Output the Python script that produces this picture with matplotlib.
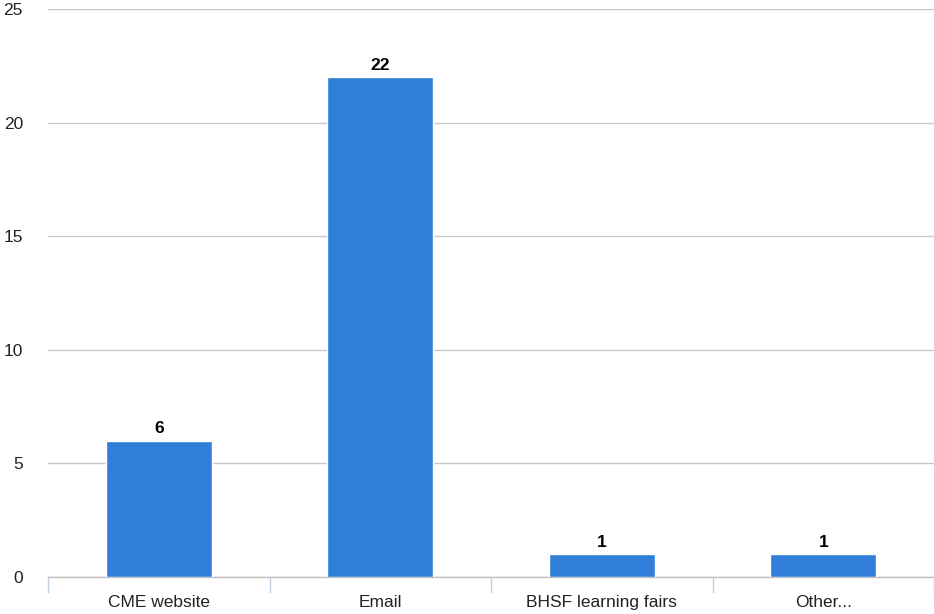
import matplotlib

matplotlib.use("Agg")

import matplotlib.pyplot as plt
import numpy as np

categories = ["CME website", "Email", "BHSF learning fairs", "Other..."]
counts = [6, 22, 1, 1]
yticks = [0, 5, 10, 15, 20, 25]

plt.rcParams["font.family"] = ["Liberation Sans", "DejaVu Sans"]

fig = plt.figure(figsize=(9.34, 6.14), dpi=100)
ax = fig.add_axes([48 / 934, 37 / 614, 886 / 934, 568 / 614])

x = np.arange(len(categories))
ax.bar(x, counts, width=0.48, color="#2F7ED8", edgecolor="white", linewidth=1, zorder=3)
for xi, v in zip(x, counts):
    ax.text(xi, v + 0.2, str(v), ha="center", va="bottom", fontsize=12.5,
            fontweight="bold", color="black", zorder=4)

ax.set_xlim(-0.5, len(categories) - 0.5)
ax.set_ylim(0, 25)
ax.set_yticks(yticks)
ax.set_yticklabels([str(t) for t in yticks], fontsize=12.5, color="#222222")
ax.tick_params(axis="y", length=0, pad=18)
ax.grid(axis="y", color="#C8C8C8", linewidth=1, zorder=0)

ax.set_xticks(x)
ax.set_xticklabels(categories, fontsize=12.5, color="#222222")
ax.tick_params(axis="x", length=0, pad=13)
# category separators below the baseline
for b in np.arange(-0.5, len(categories), 1.0):
    ax.plot([b, b], [0, -0.65], color="#C0D0E0", linewidth=1, clip_on=False, zorder=2)

for side in ["top", "right", "left"]:
    ax.spines[side].set_visible(False)
ax.spines["bottom"].set_color("#C0C0C0")
ax.spines["bottom"].set_linewidth(1)

fig.savefig("out.png", dpi=100)
